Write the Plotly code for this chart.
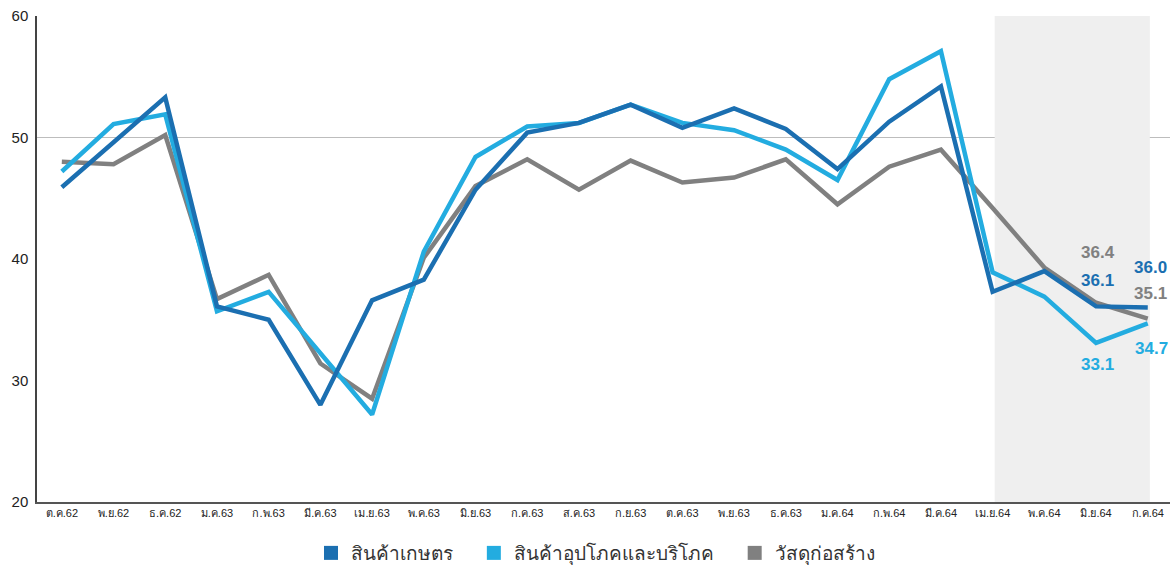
import plotly.graph_objects as go

# Month labels (Thai Buddhist-era short form)
months = ["ต.ค.62", "พ.ย.62", "ธ.ค.62", "ม.ค.63", "ก.พ.63", "มี.ค.63", "เม.ย.63",
          "พ.ค.63", "มิ.ย.63", "ก.ค.63", "ส.ค.63", "ก.ย.63", "ต.ค.63", "พ.ย.63",
          "ธ.ค.63", "ม.ค.64", "ก.พ.64", "มี.ค.64", "เม.ย.64", "พ.ค.64", "มิ.ย.64", "ก.ค.64"]

agri = [45.9, 49.6, 53.3, 36.1, 35.0, 28.0, 36.6, 38.3, 45.7, 50.4, 51.2,
        52.7, 50.8, 52.4, 50.7, 47.4, 51.3, 54.2, 37.3, 39.0, 36.1, 36.0]
consumer = [47.2, 51.1, 51.9, 35.7, 37.3, 32.2, 27.2, 40.6, 48.4, 50.9, 51.2,
            52.7, 51.2, 50.6, 49.0, 46.5, 54.8, 57.1, 38.9, 36.9, 33.1, 34.7]
construction = [48.0, 47.8, 50.2, 36.7, 38.7, 31.4, 28.5, 40.1, 46.0, 48.2, 45.7,
                48.1, 46.3, 46.7, 48.2, 44.5, 47.6, 49.0, 44.2, 39.3, 36.4, 35.1]

series_names = ["สินค้าเกษตร", "สินค้าอุปโภคและบริโภค", "วัสดุก่อสร้าง"]
y_ticks = [20, 30, 40, 50, 60]

C_DARK = "#1b6fb1"
C_LIGHT = "#23ace0"
C_GRAY = "#808080"

x = list(range(len(months)))
fig = go.Figure()

# Highlighted recent period
fig.add_shape(type="rect", xref="x", yref="y", x0=18.04, x1=21.04, y0=20, y1=60,
              fillcolor="#efefef", line_width=0, layer="below")
# Reference line at 50
fig.add_shape(type="line", xref="paper", yref="y", x0=0, x1=1, y0=50, y1=50,
              line=dict(color="#bdbdbd", width=1), layer="below")

for vals, color in [(construction, C_GRAY), (consumer, C_LIGHT), (agri, C_DARK)]:
    fig.add_trace(go.Scatter(x=x, y=vals, mode="lines", showlegend=False,
                             line=dict(color=color, width=4.5), hoverinfo="skip"))

# Legend entries with square swatches
for name, color in zip(series_names, [C_DARK, C_LIGHT, C_GRAY]):
    fig.add_trace(go.Scatter(x=[None], y=[None], mode="markers", name=name + "   ",
                             marker=dict(symbol="square", size=14, color=color)))

# Value labels for the last two months
labels = [
    (20, construction[20], C_GRAY, 50, 2),
    (20, agri[20], C_DARK, 26, 1),
    (20, consumer[20], C_LIGHT, -22, 1),
    (21, agri[21], C_DARK, 40, 3),
    (21, construction[21], C_GRAY, 25, 3),
    (21, consumer[21], C_LIGHT, -25, 4),
]
for xi, v, color, ys, xs in labels:
    fig.add_annotation(x=xi, y=v, text=f"<b>{v:.1f}</b>", showarrow=False,
                       xref="x", yref="y", yshift=ys, xshift=xs,
                       font=dict(family="Liberation Sans, Arial", size=17, color=color))

fig.update_layout(
    width=1172, height=574,
    margin=dict(l=37, r=2, t=16, b=72),
    paper_bgcolor="white", plot_bgcolor="white",
    font=dict(family="Liberation Sans, Arial", color="#333"),
    showlegend=True,
    legend=dict(orientation="h", x=0.5, xanchor="center", y=-0.105, yanchor="middle",
                font=dict(size=19, color="#333"), itemwidth=30,
                bgcolor="rgba(0,0,0,0)"),
    xaxis=dict(range=[-0.48, 21.43], tickmode="array", tickvals=x, ticktext=months,
               showgrid=False, zeroline=False, showline=True, linecolor="#555",
               linewidth=2, ticks="", tickfont=dict(size=11, color="#222")),
    yaxis=dict(range=[20, 60], tickmode="array", tickvals=y_ticks,
               showgrid=False, zeroline=False, showline=True, linecolor="#444",
               linewidth=1.5, ticks="", ticklabelstandoff=4,
               tickfont=dict(size=15, color="#222", family="Liberation Sans, Arial")),
)

fig.write_html("out.html")
